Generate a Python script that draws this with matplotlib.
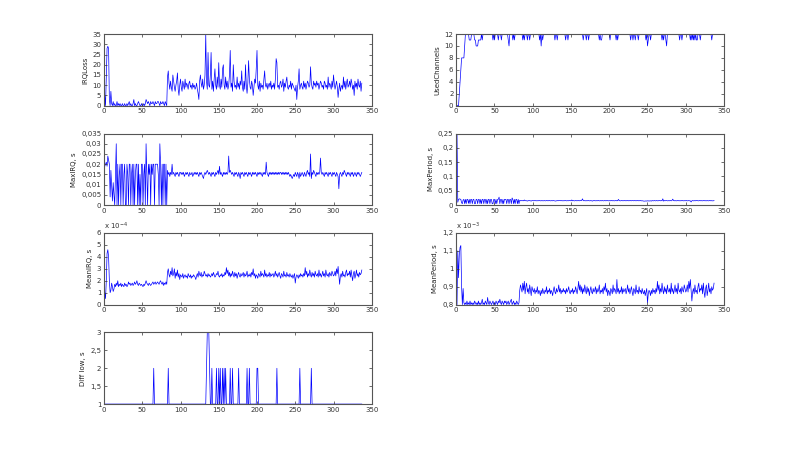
import numpy as np
import matplotlib
matplotlib.use('Agg')
import matplotlib.pyplot as plt
from matplotlib.ticker import FuncFormatter, MultipleLocator

# ---- data (one sample per step, x = 1..N) ----
irq_loss = [
    5, 0, 14, 28, 29, 28, 3, 0, 7, 1, 0, 2, 0, 1, 0, 0, 2, 0, 1, 0,
    1, 0, 0, 1, 0, 0, 1, 0, 0, 1, 0, 1, 2, 0, 1, 0, 0, 1, 3, 0,
    1, 0, 0, 1, 2, 1, 0, 0, 1, 0, 0, 1, 0, 1, 3, 2, 1, 2, 1, 0,
    2, 1, 1, 2, 1, 0, 2, 1, 1, 2, 2, 1, 0, 2, 1, 1, 2, 1, 0, 2,
    1, 0, 14, 17, 11, 8, 12, 9, 7, 15, 12, 9, 7, 10, 12, 16, 8, 5, 10, 13,
    9, 7, 12, 10, 8, 13, 9, 11, 10, 8, 11, 12, 9, 10, 8, 11, 9, 10, 8, 9,
    11, 8, 6, 3, 12, 15, 11, 9, 13, 8, 10, 15, 35, 12, 8, 26, 10, 9, 15, 26,
    8, 12, 7, 13, 18, 10, 8, 14, 9, 21, 10, 8, 13, 9, 18, 20, 10, 8, 14, 9,
    12, 8, 10, 15, 27, 9, 11, 7, 20, 12, 9, 10, 8, 14, 9, 11, 8, 12, 10, 17,
    9, 7, 12, 8, 20, 10, 6, 11, 22, 13, 9, 8, 12, 10, 5, 9, 13, 11, 18, 27,
    10, 8, 12, 7, 11, 9, 10, 8, 13, 17, 10, 9, 11, 8, 10, 11, 9, 12, 8, 10,
    9, 11, 8, 13, 23, 21, 9, 10, 8, 11, 12, 9, 10, 13, 7, 11, 9, 12, 14, 9,
    8, 10, 9, 12, 8, 11, 10, 9, 8, 7, 10, 3, 9, 12, 18, 8, 10, 11, 9, 8,
    12, 9, 11, 8, 10, 12, 11, 9, 10, 19, 11, 9, 8, 12, 10, 11, 9, 12, 10, 11,
    8, 10, 12, 11, 9, 10, 8, 12, 11, 9, 10, 8, 14, 9, 11, 10, 8, 12, 9, 15,
    11, 8, 10, 12, 9, 4, 8, 11, 7, 9, 10, 8, 14, 9, 12, 8, 11, 13, 9, 10,
    12, 9, 13, 11, 8, 10, 5, 12, 9, 11, 8, 13, 10, 9, 12, 7, 11,
]

# MaxIRQ in ms
max_irq_ms = [
    19, 20, 21, 19, 24, 22, 20, 4, 17, 10, 2, 11, 5, 0, 15, 30, 0, 20, 0, 15,
    20, 0, 20, 20, 0, 15, 20, 0, 0, 20, 15, 0, 20, 20, 0, 15, 20, 0, 20, 0,
    15, 20, 20, 0, 20, 0, 15, 0, 20, 20, 0, 15, 20, 0, 30, 15, 0, 20, 15, 20,
    0, 20, 15, 20, 20, 0, 20, 20, 20, 20, 15, 0, 30, 20, 0, 20, 0, 20, 20, 0,
    20, 0, 17, 15, 16, 14, 16, 15, 20, 15, 16, 15, 14, 16, 15, 16, 15, 14, 16, 16,
    15, 16, 15, 16, 14, 15, 16, 15, 16, 15, 14, 16, 15, 15, 16, 14, 15, 16, 15, 16,
    15, 16, 15, 14, 16, 15, 16, 15, 14, 13, 15, 16, 15, 16, 17, 16, 15, 16, 15, 14,
    16, 15, 16, 15, 14, 16, 15, 16, 17, 15, 19, 15, 16, 15, 14, 16, 15, 16, 15, 16,
    15, 16, 24, 16, 17, 16, 15, 16, 15, 14, 16, 15, 16, 15, 14, 16, 15, 13, 16, 15,
    16, 15, 14, 16, 15, 16, 15, 14, 16, 15, 16, 15, 14, 16, 15, 16, 15, 16, 15, 14,
    16, 15, 16, 15, 16, 15, 14, 16, 15, 16, 15, 21, 16, 15, 14, 16, 15, 16, 15, 16,
    15, 16, 15, 16, 15, 16, 15, 16, 15, 16, 16, 15, 16, 15, 16, 15, 16, 15, 16, 15,
    16, 15, 14, 15, 14, 13, 14, 15, 14, 16, 15, 14, 16, 15, 13, 16, 14, 15, 16, 15,
    14, 16, 15, 14, 16, 17, 15, 16, 14, 25, 13, 16, 15, 17, 16, 15, 14, 16, 15, 16,
    15, 16, 23, 16, 15, 16, 15, 14, 16, 15, 16, 15, 14, 16, 15, 16, 15, 14, 16, 15,
    16, 15, 14, 16, 15, 14, 8, 15, 16, 15, 14, 16, 15, 17, 16, 15, 14, 16, 15, 16,
    15, 14, 16, 15, 16, 14, 15, 16, 15, 14, 16, 15, 16, 15, 14, 15, 16,
]

# MeanIRQ in units of 1e-4 s
mean_irq_e4 = [
    1.0, 0.5, 2.0, 4.3, 4.6, 4.0, 2.0, 1.0, 1.2, 1.8, 1.5, 1.1, 1.3, 1.7, 1.5, 1.8, 1.6, 2.0, 1.5, 1.7,
    1.6, 1.8, 1.5, 1.7, 1.6, 1.5, 1.8, 1.6, 1.7, 1.5, 1.6, 1.9, 1.7, 1.8, 1.6, 1.7, 1.8, 1.6, 1.7, 1.9,
    1.7, 1.8, 2.0, 1.7, 1.6, 1.8, 1.7, 1.6, 1.7, 1.6, 1.5, 1.7, 1.6, 1.8, 2.0, 1.8, 1.7, 1.6, 1.8, 1.7,
    1.6, 1.7, 1.8, 1.9, 1.7, 1.8, 1.9, 1.7, 1.8, 1.9, 1.8, 1.7, 1.9, 2.0, 1.8, 1.7, 1.9, 1.6, 1.8, 1.7,
    1.9, 1.7, 2.7, 3.0, 2.5, 2.3, 2.8, 2.5, 3.1, 2.4, 2.6, 3.0, 2.2, 2.7, 2.4, 2.9, 2.3, 2.6, 2.1, 2.5,
    2.4, 2.3, 2.6, 2.2, 2.4, 2.5, 2.3, 2.4, 2.2, 2.6, 2.4, 2.3, 2.5, 2.2, 2.4, 2.3, 2.5, 2.4, 2.3, 2.1,
    2.4, 2.6, 2.3, 2.8, 2.5, 2.4, 2.7, 2.3, 2.5, 2.4, 2.8, 2.6, 2.4, 2.5, 2.3, 2.6, 2.4, 2.5, 2.3, 2.4,
    2.6, 2.4, 2.7, 2.5, 2.3, 2.4, 2.6, 2.5, 2.8, 2.4, 2.3, 2.5, 2.4, 2.6, 2.3, 2.5, 2.4, 2.7, 2.5, 3.1,
    2.6, 2.9, 2.4, 2.7, 2.3, 2.6, 2.4, 2.8, 2.5, 2.3, 2.7, 2.4, 2.6, 2.2, 2.5, 2.7, 2.4, 2.3, 2.6, 2.4,
    2.5, 2.7, 2.3, 2.6, 2.4, 2.5, 2.8, 2.3, 2.5, 2.4, 2.6, 2.3, 2.7, 2.5, 3.0, 2.4, 2.6, 2.2, 2.5, 2.4,
    2.2, 2.6, 2.5, 2.3, 2.8, 2.4, 2.6, 2.5, 2.3, 2.9, 2.4, 2.6, 2.3, 2.5, 2.4, 2.7, 2.3, 2.6, 2.4, 2.5,
    2.6, 2.3, 2.5, 2.8, 2.4, 2.6, 2.3, 2.5, 2.7, 2.4, 2.2, 2.6, 2.5, 2.3, 2.8, 2.4, 2.5, 2.3, 2.7, 2.4,
    2.5, 2.3, 2.6, 2.4, 2.3, 2.5, 2.2, 2.4, 2.6, 1.8, 2.3, 2.5, 2.4, 2.2, 2.5, 2.3, 2.6, 2.4, 2.5, 2.3,
    2.6, 2.4, 3.1, 2.5, 2.8, 2.3, 2.6, 2.4, 2.9, 2.5, 2.3, 2.7, 2.4, 2.6, 2.3, 2.8, 2.5, 2.4, 2.6, 2.3,
    2.9, 2.4, 2.6, 2.3, 2.5, 2.8, 2.4, 2.6, 2.3, 2.9, 2.5, 2.4, 2.6, 2.3, 2.7, 2.5, 2.4, 2.8, 2.6, 2.4,
    2.5, 2.8, 2.4, 3.0, 2.6, 3.2, 2.5, 1.7, 2.4, 2.6, 2.3, 2.8, 2.4, 2.5, 2.3, 2.7, 2.9, 2.4, 2.6, 2.5,
    2.8, 2.3, 2.9, 2.4, 2.0, 2.6, 2.8, 2.2, 2.5, 2.9, 2.4, 2.6, 2.3, 2.7, 2.5, 2.6, 2.9,
]

# diff low: sits at 1, with these spikes
diff_low_n = 337
diff_low_base = 1
diff_low_spike_x = [65, 84, 134, 135, 136, 137, 138, 141, 147, 150, 152, 155, 157,
                    159, 165, 168, 176, 187, 190, 200, 201, 226, 256, 271]
diff_low_spike_y = [2, 2, 2, 3, 3, 3, 2, 2, 2, 2, 2, 2, 2,
                    2, 2, 2, 2, 2, 2, 2, 2, 2, 2, 2]

used_channels = [
    0, 0, 0, 2, 4, 6, 8, 8, 8, 8, 10, 12, 12, 12, 12, 12, 11, 11, 11, 12,
    12, 12, 12, 11, 11, 10, 10, 10, 11, 11, 11, 11, 12, 11, 12, 12, 12, 12, 12, 12,
    12, 12, 12, 12, 12, 12, 12, 11, 12, 11, 12, 12, 12, 12, 11, 12, 12, 12, 11, 12,
    12, 12, 12, 12, 12, 12, 12, 11, 10, 12, 12, 12, 12, 11, 12, 11, 12, 12, 12, 12,
    12, 12, 12, 12, 12, 12, 11, 12, 11, 12, 12, 12, 11, 12, 12, 11, 12, 12, 12, 12,
    12, 12, 12, 12, 12, 12, 12, 12, 11, 12, 10, 12, 11, 12, 12, 12, 12, 12, 12, 12,
    12, 12, 12, 12, 12, 12, 12, 12, 11, 12, 12, 11, 12, 12, 12, 12, 12, 12, 12, 12,
    12, 12, 11, 12, 12, 11, 12, 12, 12, 12, 12, 12, 12, 12, 12, 12, 12, 12, 12, 12,
    12, 12, 12, 12, 12, 11, 12, 12, 12, 11, 12, 12, 11, 12, 12, 12, 12, 12, 12, 12,
    12, 12, 12, 12, 12, 12, 11, 12, 11, 11, 12, 12, 12, 12, 12, 12, 12, 12, 12, 12,
    11, 12, 12, 12, 12, 12, 12, 12, 11, 12, 11, 12, 12, 12, 12, 12, 12, 12, 12, 12,
    12, 12, 12, 12, 12, 12, 12, 11, 12, 12, 11, 12, 12, 11, 12, 12, 12, 11, 12, 12,
    12, 12, 12, 12, 12, 12, 12, 11, 12, 10, 11, 12, 12, 11, 12, 12, 12, 12, 12, 12,
    12, 12, 12, 12, 12, 12, 12, 12, 11, 12, 11, 12, 12, 11, 10, 12, 12, 12, 12, 12,
    12, 12, 12, 12, 12, 12, 12, 12, 12, 12, 12, 11, 12, 12, 11, 12, 12, 12, 12, 12,
    12, 12, 12, 12, 12, 11, 12, 11, 12, 11, 12, 11, 12, 11, 11, 12, 12, 12, 11, 12,
    12, 12, 12, 12, 12, 12, 12, 12, 12, 12, 12, 12, 12, 11, 12, 12, 12,
]

# MaxPeriod in ms
max_period_ms = [
    250, 10, 20, 22, 21, 20, 8, 5, 18, 20, 5, 20, 5, 20, 20, 6, 20, 5, 20, 20,
    5, 20, 20, 5, 5, 20, 20, 5, 20, 20, 5, 20, 5, 20, 20, 5, 20, 20, 5, 20,
    5, 20, 20, 5, 20, 20, 5, 5, 20, 20, 5, 20, 5, 20, 20, 28, 5, 20, 20, 5,
    20, 5, 20, 20, 20, 5, 20, 20, 5, 20, 20, 5, 25, 20, 5, 20, 5, 20, 20, 5,
    20, 5, 17, 15, 16, 15, 16, 15, 18, 15, 16, 15, 14, 16, 15, 16, 15, 14, 16, 16,
    15, 16, 15, 16, 15, 15, 16, 15, 16, 15, 15, 16, 15, 15, 16, 15, 15, 16, 15, 16,
    15, 16, 15, 15, 16, 15, 16, 15, 15, 14, 15, 16, 15, 16, 16, 16, 15, 16, 15, 15,
    16, 15, 16, 15, 15, 16, 15, 16, 16, 15, 18, 15, 16, 15, 15, 16, 15, 16, 15, 16,
    15, 16, 17, 16, 22, 16, 15, 16, 15, 15, 16, 15, 16, 15, 15, 16, 15, 14, 16, 15,
    16, 15, 15, 16, 15, 16, 15, 15, 16, 15, 16, 15, 15, 16, 15, 16, 15, 16, 15, 15,
    16, 15, 16, 15, 16, 15, 15, 16, 15, 16, 15, 20, 16, 15, 15, 16, 15, 16, 15, 16,
    15, 16, 15, 16, 15, 16, 15, 16, 15, 16, 16, 15, 16, 15, 16, 15, 16, 15, 16, 15,
    16, 15, 15, 15, 14, 14, 14, 15, 14, 15, 15, 14, 15, 15, 14, 16, 15, 15, 16, 15,
    15, 16, 15, 15, 16, 16, 15, 16, 15, 22, 14, 16, 15, 16, 16, 15, 15, 16, 15, 16,
    15, 16, 21, 16, 15, 16, 15, 15, 16, 15, 16, 15, 15, 16, 15, 16, 15, 15, 16, 15,
    16, 15, 15, 16, 15, 15, 11, 15, 16, 15, 15, 16, 15, 16, 16, 15, 15, 16, 15, 16,
    15, 15, 16, 15, 16, 15, 15, 16, 15, 15, 16, 15, 16, 15, 15, 15, 16,
]

# MeanPeriod in ms
mean_period_ms = [
    0.80, 1.10, 0.95, 1.08, 1.12, 1.13, 0.90, 0.80, 0.89, 0.81, 0.80, 0.81, 0.80, 0.82, 0.80, 0.81, 0.80, 0.82, 0.80, 0.81,
    0.80, 0.81, 0.80, 0.82, 0.81, 0.80, 0.81, 0.80, 0.82, 0.80, 0.81, 0.80, 0.81, 0.83, 0.80, 0.81, 0.80, 0.82, 0.81, 0.80,
    0.84, 0.81, 0.80, 0.82, 0.81, 0.80, 0.81, 0.82, 0.80, 0.81, 0.80, 0.82, 0.81, 0.80, 0.82, 0.81, 0.83, 0.81, 0.80, 0.82,
    0.81, 0.80, 0.82, 0.81, 0.82, 0.80, 0.81, 0.82, 0.80, 0.81, 0.82, 0.83, 0.80, 0.81, 0.82, 0.80, 0.81, 0.80, 0.82, 0.81,
    0.80, 0.81, 0.88, 0.91, 0.89, 0.87, 0.92, 0.88, 0.93, 0.86, 0.90, 0.92, 0.87, 0.89, 0.86, 0.91, 0.88, 0.85, 0.90, 0.88,
    0.87, 0.89, 0.86, 0.88, 0.87, 0.90, 0.86, 0.88, 0.87, 0.85, 0.88, 0.86, 0.89, 0.87, 0.86, 0.88, 0.87, 0.90, 0.86, 0.88,
    0.87, 0.89, 0.86, 0.88, 0.87, 0.85, 0.88, 0.90, 0.87, 0.86, 0.89, 0.87, 0.88, 0.91, 0.87, 0.89, 0.86, 0.88, 0.87, 0.89,
    0.87, 0.88, 0.86, 0.89, 0.87, 0.88, 0.90, 0.87, 0.86, 0.88, 0.87, 0.89, 0.86, 0.88, 0.87, 0.90, 0.88, 0.86, 0.89, 0.93,
    0.88, 0.91, 0.87, 0.90, 0.86, 0.89, 0.87, 0.91, 0.88, 0.86, 0.90, 0.87, 0.89, 0.85, 0.88, 0.90, 0.87, 0.86, 0.89, 0.87,
    0.88, 0.90, 0.86, 0.89, 0.87, 0.88, 0.91, 0.86, 0.88, 0.87, 0.89, 0.86, 0.90, 0.88, 0.92, 0.87, 0.89, 0.85, 0.88, 0.87,
    0.85, 0.89, 0.88, 0.86, 0.91, 0.87, 0.89, 0.88, 0.86, 0.94, 0.87, 0.89, 0.86, 0.88, 0.87, 0.90, 0.86, 0.89, 0.87, 0.88,
    0.89, 0.86, 0.88, 0.91, 0.87, 0.89, 0.86, 0.88, 0.90, 0.87, 0.85, 0.89, 0.88, 0.86, 0.91, 0.87, 0.88, 0.86, 0.90, 0.87,
    0.88, 0.86, 0.89, 0.87, 0.86, 0.88, 0.85, 0.87, 0.89, 0.81, 0.86, 0.88, 0.87, 0.85, 0.88, 0.86, 0.89, 0.87, 0.88, 0.86,
    0.89, 0.87, 0.93, 0.88, 0.91, 0.86, 0.89, 0.87, 0.92, 0.88, 0.86, 0.90, 0.87, 0.89, 0.86, 0.91, 0.88, 0.87, 0.89, 0.86,
    0.92, 0.87, 0.89, 0.86, 0.88, 0.91, 0.87, 0.89, 0.86, 0.92, 0.88, 0.87, 0.89, 0.86, 0.90, 0.88, 0.87, 0.91, 0.89, 0.87,
    0.88, 0.91, 0.87, 0.93, 0.89, 0.94, 0.88, 0.82, 0.87, 0.89, 0.86, 0.91, 0.87, 0.88, 0.86, 0.90, 0.92, 0.87, 0.89, 0.88,
    0.91, 0.86, 0.92, 0.87, 0.84, 0.89, 0.91, 0.85, 0.88, 0.92, 0.87, 0.89, 0.86, 0.90, 0.88, 0.89, 0.92,
]

# build diff low series
diff_low = [diff_low_base] * diff_low_n
for sx, sy in zip(diff_low_spike_x, diff_low_spike_y):
    diff_low[sx - 1] = sy


def comma_fmt(v, pos):
    s = '%g' % round(v, 6)
    return s.replace('.', ',')


fig = plt.figure(figsize=(8, 4.54), dpi=100)

# matlab default subplot(4,2,k) positions
col_left = [0.13, 0.5703]
row_bottom = [0.7673, 0.5482, 0.3291, 0.11]
w, h = 0.3347, 0.1577

# (col, row, data, ylabel, ylim, ytick step, scale text)
panels = [
    (0, 0, irq_loss, 'IRQLoss', (0, 35), 5, None),
    (0, 1, max_irq_ms, 'MaxIRQ, s', (0, 0.035), 0.005, None),
    (0, 2, mean_irq_e4, 'MeanIRQ, s', (0, 6), 1, r'x 10$^{-4}$'),
    (0, 3, diff_low, 'Diff low, s', (1, 3), 0.5, None),
    (1, 0, used_channels, 'UsedChannels', (0, 12), 2, None),
    (1, 1, max_period_ms, 'MaxPeriod, s', (0, 0.25), 0.05, None),
    (1, 2, mean_period_ms, 'MeanPeriod, s', (0.8, 1.2), 0.1, r'x 10$^{-3}$'),
]

for col, row, data, label, ylim, step, scale in panels:
    ax = fig.add_axes([col_left[col], row_bottom[row], w, h])
    y = np.array(data, dtype=float)
    if label in ('MaxIRQ, s', 'MaxPeriod, s'):
        y = y * 1e-3  # ms -> s
    x = np.arange(1, len(y) + 1)
    ax.plot(x, y, color='#0000ff', lw=0.5, zorder=1)
    ax.set_xlim(0, 350)
    ax.set_ylim(*ylim)
    ax.xaxis.set_major_locator(MultipleLocator(50))
    ax.yaxis.set_major_locator(MultipleLocator(step))
    ax.yaxis.set_major_formatter(FuncFormatter(comma_fmt))
    ax.tick_params(direction='in', length=2.2, width=0.5, labelsize=5,
                   top=True, right=True, pad=2, colors='#333333')
    for sp in ax.spines.values():
        sp.set_linewidth(0.8)
        sp.set_color('#555555')
        sp.set_zorder(3)
    ax.set_ylabel(label, fontsize=5, labelpad=3, color='#222222')
    if scale:
        ax.text(0.0, 1.02, scale, transform=ax.transAxes, fontsize=5,
                ha='left', va='bottom', color='#333333')

fig.savefig('out.png', dpi=100)
